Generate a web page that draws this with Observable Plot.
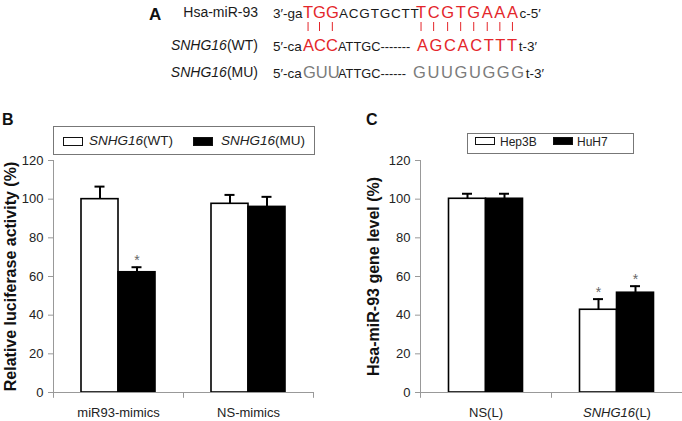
<!DOCTYPE html>
<html><head><meta charset="utf-8">
<script src="https://cdn.jsdelivr.net/npm/d3@7"></script>
<script src="https://cdn.jsdelivr.net/npm/@observablehq/plot@0.6"></script>
<style>
body{margin:0;background:#fff;font-family:"Liberation Sans",Arial,sans-serif;}
#root{position:relative;width:682px;height:421px;overflow:hidden;background:#fff;}
.panel{position:absolute;font-weight:bold;color:#111;line-height:1;}
.legend{position:absolute;border:1px solid #777;box-sizing:border-box;background:#fff;}
.sw{position:absolute;box-sizing:border-box;border:1px solid #111;}
.lt{position:absolute;white-space:nowrap;color:#222;line-height:1;}
</style></head><body><div id="root"></div>
<script>
// ---------- data ----------
// Panel A: sequences
const seqLabels = ["Hsa-miR-93", "SNHG16(WT)", "SNHG16(MU)"];
const seqMiR = [["3′-ga","s"],["TGG","r"],["ACGTGCTT","s"],["TCGTGAAA","r"],["c-5′","s"]];
const seqWT  = [["5′-ca","s"],["ACC","r"],["ATTGC-------","s"],["AGCACTTT","r"],["t-3′","s"]];
const seqMU  = [["5′-ca","s"],["GUU","g"],["ATTGC------","s"],["GUUGUGGG","g"],["t-3′","s"]];

// Panel B
const groupsB = ["miR93-mimics", "NS-mimics"];
const seriesB = ["SNHG16(WT)", "SNHG16(MU)"];
const valuesB_WT = [100, 97.6];
const errorsB_WT = [6.5, 4.6];
const valuesB_MU = [62.2, 96.0];
const errorsB_MU = [2.6, 5.2];
const sigB_WT = [false, false];
const sigB_MU = [true, false];
const ylabelB = "Relative luciferase activity (%)";

// Panel C
const groupsC = ["NS(L)", "SNHG16(L)"];
const seriesC = ["Hep3B", "HuH7"];
const valuesC_Hep3B = [100.2, 42.8];
const errorsC_Hep3B = [2.6, 5.5];
const valuesC_HuH7 = [100.2, 51.6];
const errorsC_HuH7 = [2.6, 3.4];
const sigC_Hep3B = [false, true];
const sigC_HuH7 = [false, true];
const ylabelC = "Hsa-miR-93 gene level (%)";

const yTicks = [0, 20, 40, 60, 80, 100, 120];

// ---------- layout ----------
const root = document.getElementById("root");
const FONT = '"Liberation Sans", Arial, sans-serif';

function addDiv(cls, style, html) {
  const d = document.createElement("div");
  d.className = cls;
  Object.assign(d.style, style);
  if (html != null) d.innerHTML = html;
  root.appendChild(d);
  return d;
}
function italicize(label) {
  return label.replace("SNHG16", "<i>SNHG16</i>");
}

// Panel letters
addDiv("panel", {left: "149px", top: "6px", fontSize: "17px"}, "A");
addDiv("panel", {left: "2px", top: "112px", fontSize: "16px"}, "B");
addDiv("panel", {left: "366px", top: "112px", fontSize: "16px"}, "C");

// Panel A as SVG text
const svgA = d3.select(root).append("svg")
  .attr("width", 682).attr("height", 95)
  .style("position", "absolute").style("left", "0px").style("top", "0px")
  .style("font-family", FONT);
const rowsA = [seqMiR, seqWT, seqMU];
const baselines = [18, 51, 78];
const segStarts = [[273, 303, 339, 416, null], [273, 303, 338, 417, null], [273, 303, 338, 413, null]];
const colors = {s: "#1a1a1a", r: "#e4262b", g: "#7b7b7b"};
const textEls = [];
rowsA.forEach((row, ri) => {
  const lab = svgA.append("text").attr("x", 258).attr("y", baselines[ri] - 1)
    .attr("text-anchor", "end").attr("font-size", 14).attr("fill", "#1a1a1a");
  const l = seqLabels[ri];
  if (l.startsWith("SNHG16")) {
    lab.append("tspan").attr("font-style", "italic").text("SNHG16");
    lab.append("tspan").text(l.slice(6));
  } else lab.text(l);
  const t = svgA.append("text").attr("y", baselines[ri]);
  row.forEach(([str, kind], si) => {
    const ts = t.append("tspan").text(str)
      .attr("font-size", kind === "s" ? (si === 2 && ri > 0 ? 12.8 : 13.5) : 16.5)
      .attr("fill", colors[kind]);
    if (kind !== "s" && str.length > 3) ts.attr("letter-spacing", 1.6);
    if (ri === 0 && si === 2) ts.attr("letter-spacing", 0.8);
    if (segStarts[ri][si] != null) ts.attr("x", segStarts[ri][si]);
  });
  textEls.push(t.node());
});
// pairing lines under the red letters of the miRNA row
{
  const t = textEls[0];
  let idx = 0;
  const centers = [];
  seqMiR.forEach(([str, kind]) => {
    for (let k = 0; k < str.length; k++) {
      if (kind === "r") {
        const e = t.getExtentOfChar(idx + k);
        centers.push(e.x + e.width / 2 - (str.length > 3 ? 0.8 : 0));
      }
    }
    idx += str.length;
  });
  svgA.selectAll("line.pair").data(centers).join("line")
    .attr("x1", d => d).attr("x2", d => d).attr("y1", 22).attr("y2", 31)
    .attr("stroke", "#e4262b").attr("stroke-width", 1);
}

// ---------- charts ----------
function drawChart({groups, series, values, errors, sig, width, marginLeft, marginRight, ylabel, labelDx}) {
  const rows = [];
  groups.forEach((g, gi) => series.forEach((s, si) =>
    rows.push({group: g, series: s, si, value: values[si][gi], err: errors[si][gi], sig: sig[si][gi]})));
  const bw = (width - marginLeft - marginRight) / groups.length;
  const barW = 37, capW = 10;
  const fills = ["#ffffff", "#000000"];
  const marks = [];
  series.forEach((s, si) => {
    const off = (si - (series.length - 1) / 2) * barW;
    const d = rows.filter(r => r.si === si);
    marks.push(Plot.barY(d, {x: "group", y: "value", fill: fills[si], stroke: "#000", strokeWidth: 1.6,
      insetLeft: bw / 2 + off - barW / 2, insetRight: bw / 2 - off - barW / 2}));
  });
  series.forEach((s, si) => {
    const off = (si - (series.length - 1) / 2) * barW;
    const d = rows.filter(r => r.si === si);
    marks.push(Plot.ruleX(d, {x: "group", y1: "value", y2: r => r.value + r.err, dx: off, stroke: "#000", strokeWidth: 2}));
    marks.push(Plot.tickY(d, {x: "group", y: r => r.value + r.err, stroke: "#000", strokeWidth: 2,
      insetLeft: bw / 2 + off - capW / 2, insetRight: bw / 2 - off - capW / 2}));
    marks.push(Plot.text(d.filter(r => r.sig), {x: "group", y: r => r.value + r.err, text: () => "*",
      dx: off, dy: -7, fontSize: 14, fill: "#666"}));
  });
  // axes
  marks.push(Plot.frame({anchor: "left", stroke: "#999"}));
  marks.push(Plot.ruleY([0], {stroke: "#999"}));
  marks.push(Plot.ruleX(groups, {x: d => d, dx: -bw / 2, y1: 0, y2: -3, stroke: "#999"}));
  marks.push(Plot.ruleX([groups[groups.length - 1]], {x: d => d, dx: bw / 2, y1: 0, y2: -3, stroke: "#999"}));
  marks.push(Plot.axisY({ticks: yTicks, tickSize: 5, tickPadding: 5, label: null, stroke: "#999", color: "#222", fontSize: 13}));
  marks.push(Plot.axisX({tickSize: 0, tickPadding: 15, label: null, color: "#222", fontSize: 13}));
  marks.push(Plot.text([ylabel], {frameAnchor: "left", textAnchor: "middle", lineAnchor: "middle", dx: labelDx, rotate: -90,
    fontWeight: "bold", fontSize: 16, fill: "#111"}));
  const svg = Plot.plot({
    width, height: 266, marginTop: 5, marginBottom: 29, marginLeft, marginRight,
    style: {fontFamily: FONT, fontSize: "13px", background: "transparent", overflow: "visible"},
    x: {domain: groups, padding: 0, round: false, axis: null},
    y: {domain: [0, 120], axis: null},
    marks
  });
  d3.select(svg).selectAll("text").each(function () {
    const el = d3.select(this);
    if (this.childElementCount === 0 && this.textContent === "SNHG16(L)") {
      el.text(null);
      el.append("tspan").attr("font-style", "italic").text("SNHG16");
      el.append("tspan").text("(L)");
    }
  });
  return svg;
}

const svgB = drawChart({groups: groupsB, series: seriesB, values: [valuesB_WT, valuesB_MU], errors: [errorsB_WT, errorsB_MU],
  sig: [sigB_WT, sigB_MU], width: 341, marginLeft: 53, marginRight: 28, ylabel: ylabelB, labelDx: -43});
svgB.style.left = "0px"; svgB.style.position = "absolute"; svgB.style.top = "155px";
root.appendChild(svgB);

const svgC = drawChart({groups: groupsC, series: seriesC, values: [valuesC_Hep3B, valuesC_HuH7], errors: [errorsC_Hep3B, errorsC_HuH7],
  sig: [sigC_Hep3B, sigC_HuH7], width: 341, marginLeft: 79, marginRight: 0, ylabel: ylabelC, labelDx: -47});
svgC.style.left = "341px"; svgC.style.position = "absolute"; svgC.style.top = "155px";
root.appendChild(svgC);

// ---------- legends ----------
function legend(box, items) {
  addDiv("legend", {left: box.x + "px", top: box.y + "px", width: box.w + "px", height: box.h + "px"});
  items.forEach(it => {
    addDiv("sw", {left: it.sx + "px", top: it.sy + "px", width: it.sw + "px", height: it.sh + "px", background: it.fill});
    addDiv("lt", {left: it.tx + "px", top: it.ty + "px", fontSize: it.fs + "px"}, italicize(it.label));
  });
}
legend({x: 53, y: 126, w: 262, h: 29}, [
  {label: seriesB[0], fill: "#fff", sx: 63, sy: 137, sw: 20, sh: 9, tx: 89, ty: 134, fs: 13.5},
  {label: seriesB[1], fill: "#000", sx: 193, sy: 137, sw: 20, sh: 9, tx: 221, ty: 134, fs: 13.5}
]);
legend({x: 467, y: 133, w: 167, h: 21}, [
  {label: seriesC[0], fill: "#fff", sx: 475, sy: 137, sw: 20, sh: 8, tx: 500, ty: 136, fs: 12},
  {label: seriesC[1], fill: "#000", sx: 553, sy: 137, sw: 20, sh: 8, tx: 577, ty: 136, fs: 12}
]);
</script></body></html>
